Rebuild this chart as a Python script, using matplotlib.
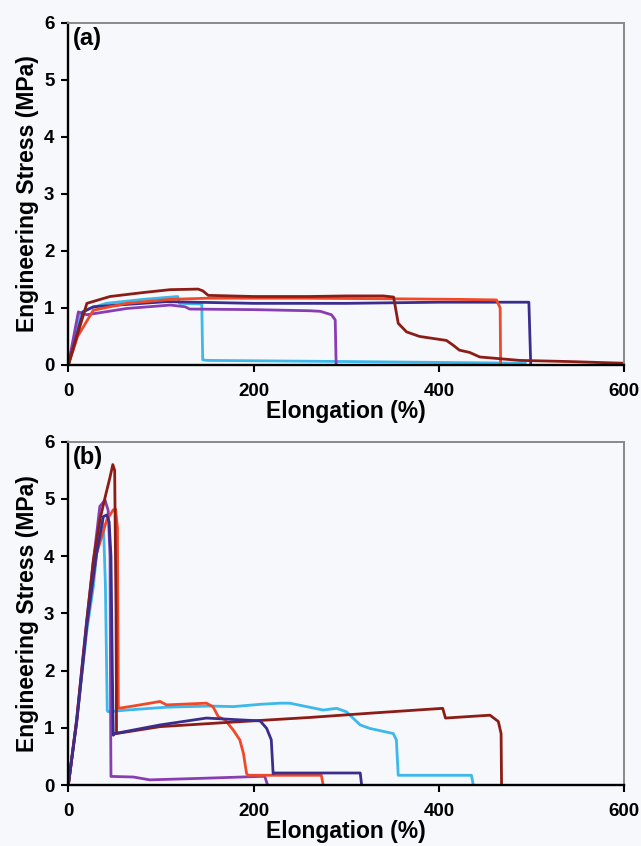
import matplotlib
matplotlib.use("Agg")
import matplotlib.pyplot as plt

plt.rcParams['font.family'] = ['Liberation Sans', 'DejaVu Sans']
plt.rcParams['font.weight'] = 'bold'

# colours of the five samples
c_brown = '#8c1d16'
c_red = '#f04828'
c_navy = '#3a2d8e'
c_cyan = '#3cb8ea'
c_purple = '#8a3db2'

# ---- panel (a) ----
brown_a_x = [0, 20, 45, 81, 110, 140, 145, 151, 200, 260, 300, 340, 351, 356, 365, 379, 408, 415, 422, 433, 444, 487, 540, 600]
brown_a_y = [0, 1.08, 1.20, 1.27, 1.32, 1.33, 1.30, 1.22, 1.20, 1.20, 1.21, 1.21, 1.19, 0.73, 0.58, 0.50, 0.43, 0.35, 0.26, 0.22, 0.14, 0.08, 0.06, 0.03]

red_a_x = [0, 10, 27, 63, 110, 150, 250, 350, 420, 462, 466, 466.5]
red_a_y = [0, 0.5, 0.96, 1.08, 1.15, 1.17, 1.17, 1.16, 1.15, 1.14, 1.0, 0.02]

navy_a_x = [0, 16, 27, 106, 200, 300, 400, 497, 499]
navy_a_y = [0, 0.93, 1.02, 1.11, 1.08, 1.08, 1.10, 1.10, 0.0]

cyan_a_x = [0, 12.6, 23, 41, 81, 118, 120, 144, 145, 150, 300, 493]
cyan_a_y = [0, 0.91, 0.99, 1.08, 1.15, 1.20, 1.08, 1.07, 0.09, 0.08, 0.06, 0.03]

purple_a_x = [0, 10.8, 20, 63, 110, 126, 131, 200, 261, 272, 284, 288, 289]
purple_a_y = [0, 0.93, 0.88, 0.99, 1.05, 1.02, 0.98, 0.97, 0.95, 0.94, 0.88, 0.79, 0.0]

# ---- panel (b) ----
brown_b_x = [0, 9, 20, 27, 34, 40, 45, 48, 50, 51.5, 52, 99, 178, 260, 330, 404, 407, 455, 464, 467, 467.5]
brown_b_y = [0, 1.14, 2.88, 3.93, 4.63, 5.05, 5.38, 5.6, 5.5, 3.0, 0.90, 1.02, 1.10, 1.18, 1.26, 1.34, 1.17, 1.22, 1.11, 0.9, 0]

red_b_x = [0, 9, 20, 30.6, 41.4, 48.5, 51, 53, 54, 70, 99, 106, 149, 156, 162, 169, 178, 185, 189, 190.6, 192.4, 194, 273, 275]
red_b_y = [0, 1.1, 2.8, 4.05, 4.63, 4.81, 4.82, 4.5, 1.34, 1.38, 1.46, 1.40, 1.43, 1.37, 1.19, 1.14, 0.96, 0.79, 0.55, 0.38, 0.20, 0.17, 0.17, 0]

cyan_b_x = [0, 9, 20, 27, 34, 36, 38, 40, 42, 43, 63, 106, 153, 178, 207, 228, 239, 275, 289.5, 300, 315, 325, 350.6, 354, 356, 380, 435, 437]
cyan_b_y = [0, 1.1, 2.7, 3.47, 4.6, 4.63, 4.5, 3.5, 1.3, 1.28, 1.31, 1.36, 1.38, 1.37, 1.41, 1.43, 1.43, 1.31, 1.34, 1.28, 1.05, 0.99, 0.90, 0.79, 0.17, 0.17, 0.17, 0]

navy_b_x = [0, 9, 20, 30, 37.8, 41.4, 44, 46, 47.5, 48.5, 50.4, 99, 149, 207, 214, 219, 221, 223, 315, 316.5]
navy_b_y = [0, 1.1, 2.8, 4.0, 4.69, 4.72, 4.6, 4.0, 2.0, 0.87, 0.90, 1.05, 1.17, 1.12, 0.99, 0.79, 0.20, 0.21, 0.21, 0]

purple_b_x = [0, 9, 20, 27, 34, 39.6, 43, 45, 45.7, 46, 70, 88, 150, 207, 212, 215]
purple_b_y = [0, 1.15, 2.9, 3.9, 4.87, 4.98, 4.8, 4.0, 1.0, 0.15, 0.14, 0.09, 0.12, 0.15, 0.15, 0]

bg = '#f7f8fb'
fig = plt.figure(figsize=(6.41, 8.46), dpi=100, facecolor=bg)

ax_a = fig.add_axes([0.1066, 0.5686, 0.8674, 0.4046])
ax_b = fig.add_axes([0.1066, 0.0721, 0.8674, 0.4058])

panels = [
    (ax_a, '(a)', [(cyan_a_x, cyan_a_y, c_cyan), (purple_a_x, purple_a_y, c_purple),
                   (navy_a_x, navy_a_y, c_navy), (red_a_x, red_a_y, c_red),
                   (brown_a_x, brown_a_y, c_brown)]),
    (ax_b, '(b)', [(cyan_b_x, cyan_b_y, c_cyan), (purple_b_x, purple_b_y, c_purple),
                   (red_b_x, red_b_y, c_red), (brown_b_x, brown_b_y, c_brown),
                   (navy_b_x, navy_b_y, c_navy)]),
]

for ax, tag, curves in panels:
    ax.set_facecolor(bg)
    for xs, ys, col in curves:
        ax.plot(xs, ys, color=col, lw=2.0, solid_joinstyle='round')
    ax.set_xlim(0, 600)
    ax.set_ylim(0, 6)
    ax.set_xticks([0, 200, 400, 600])
    ax.set_yticks(range(7))
    for s in ['left', 'bottom']:
        ax.spines[s].set_color('black')
        ax.spines[s].set_linewidth(1.7)
    for s in ['top', 'right']:
        ax.spines[s].set_color('#8a8a8a')
        ax.spines[s].set_linewidth(1.4)
    ax.tick_params(axis='both', direction='out', length=5, width=1.5, labelsize=13.5)
    ax.tick_params(axis='x', pad=8)
    ax.tick_params(axis='y', pad=5)
    for lab in ax.get_xticklabels() + ax.get_yticklabels():
        lab.set_fontweight('bold')
    ax.set_xlabel('Elongation (%)', fontsize=16.5, fontweight='bold', labelpad=0)
    ax.set_ylabel('Engineering Stress (MPa)', fontsize=16.5, fontweight='bold', labelpad=4)
    ax.text(0.008, 0.988, tag, transform=ax.transAxes, ha='left', va='top',
            fontsize=17, fontweight='bold')

fig.savefig('out.png', dpi=100, facecolor=bg)
